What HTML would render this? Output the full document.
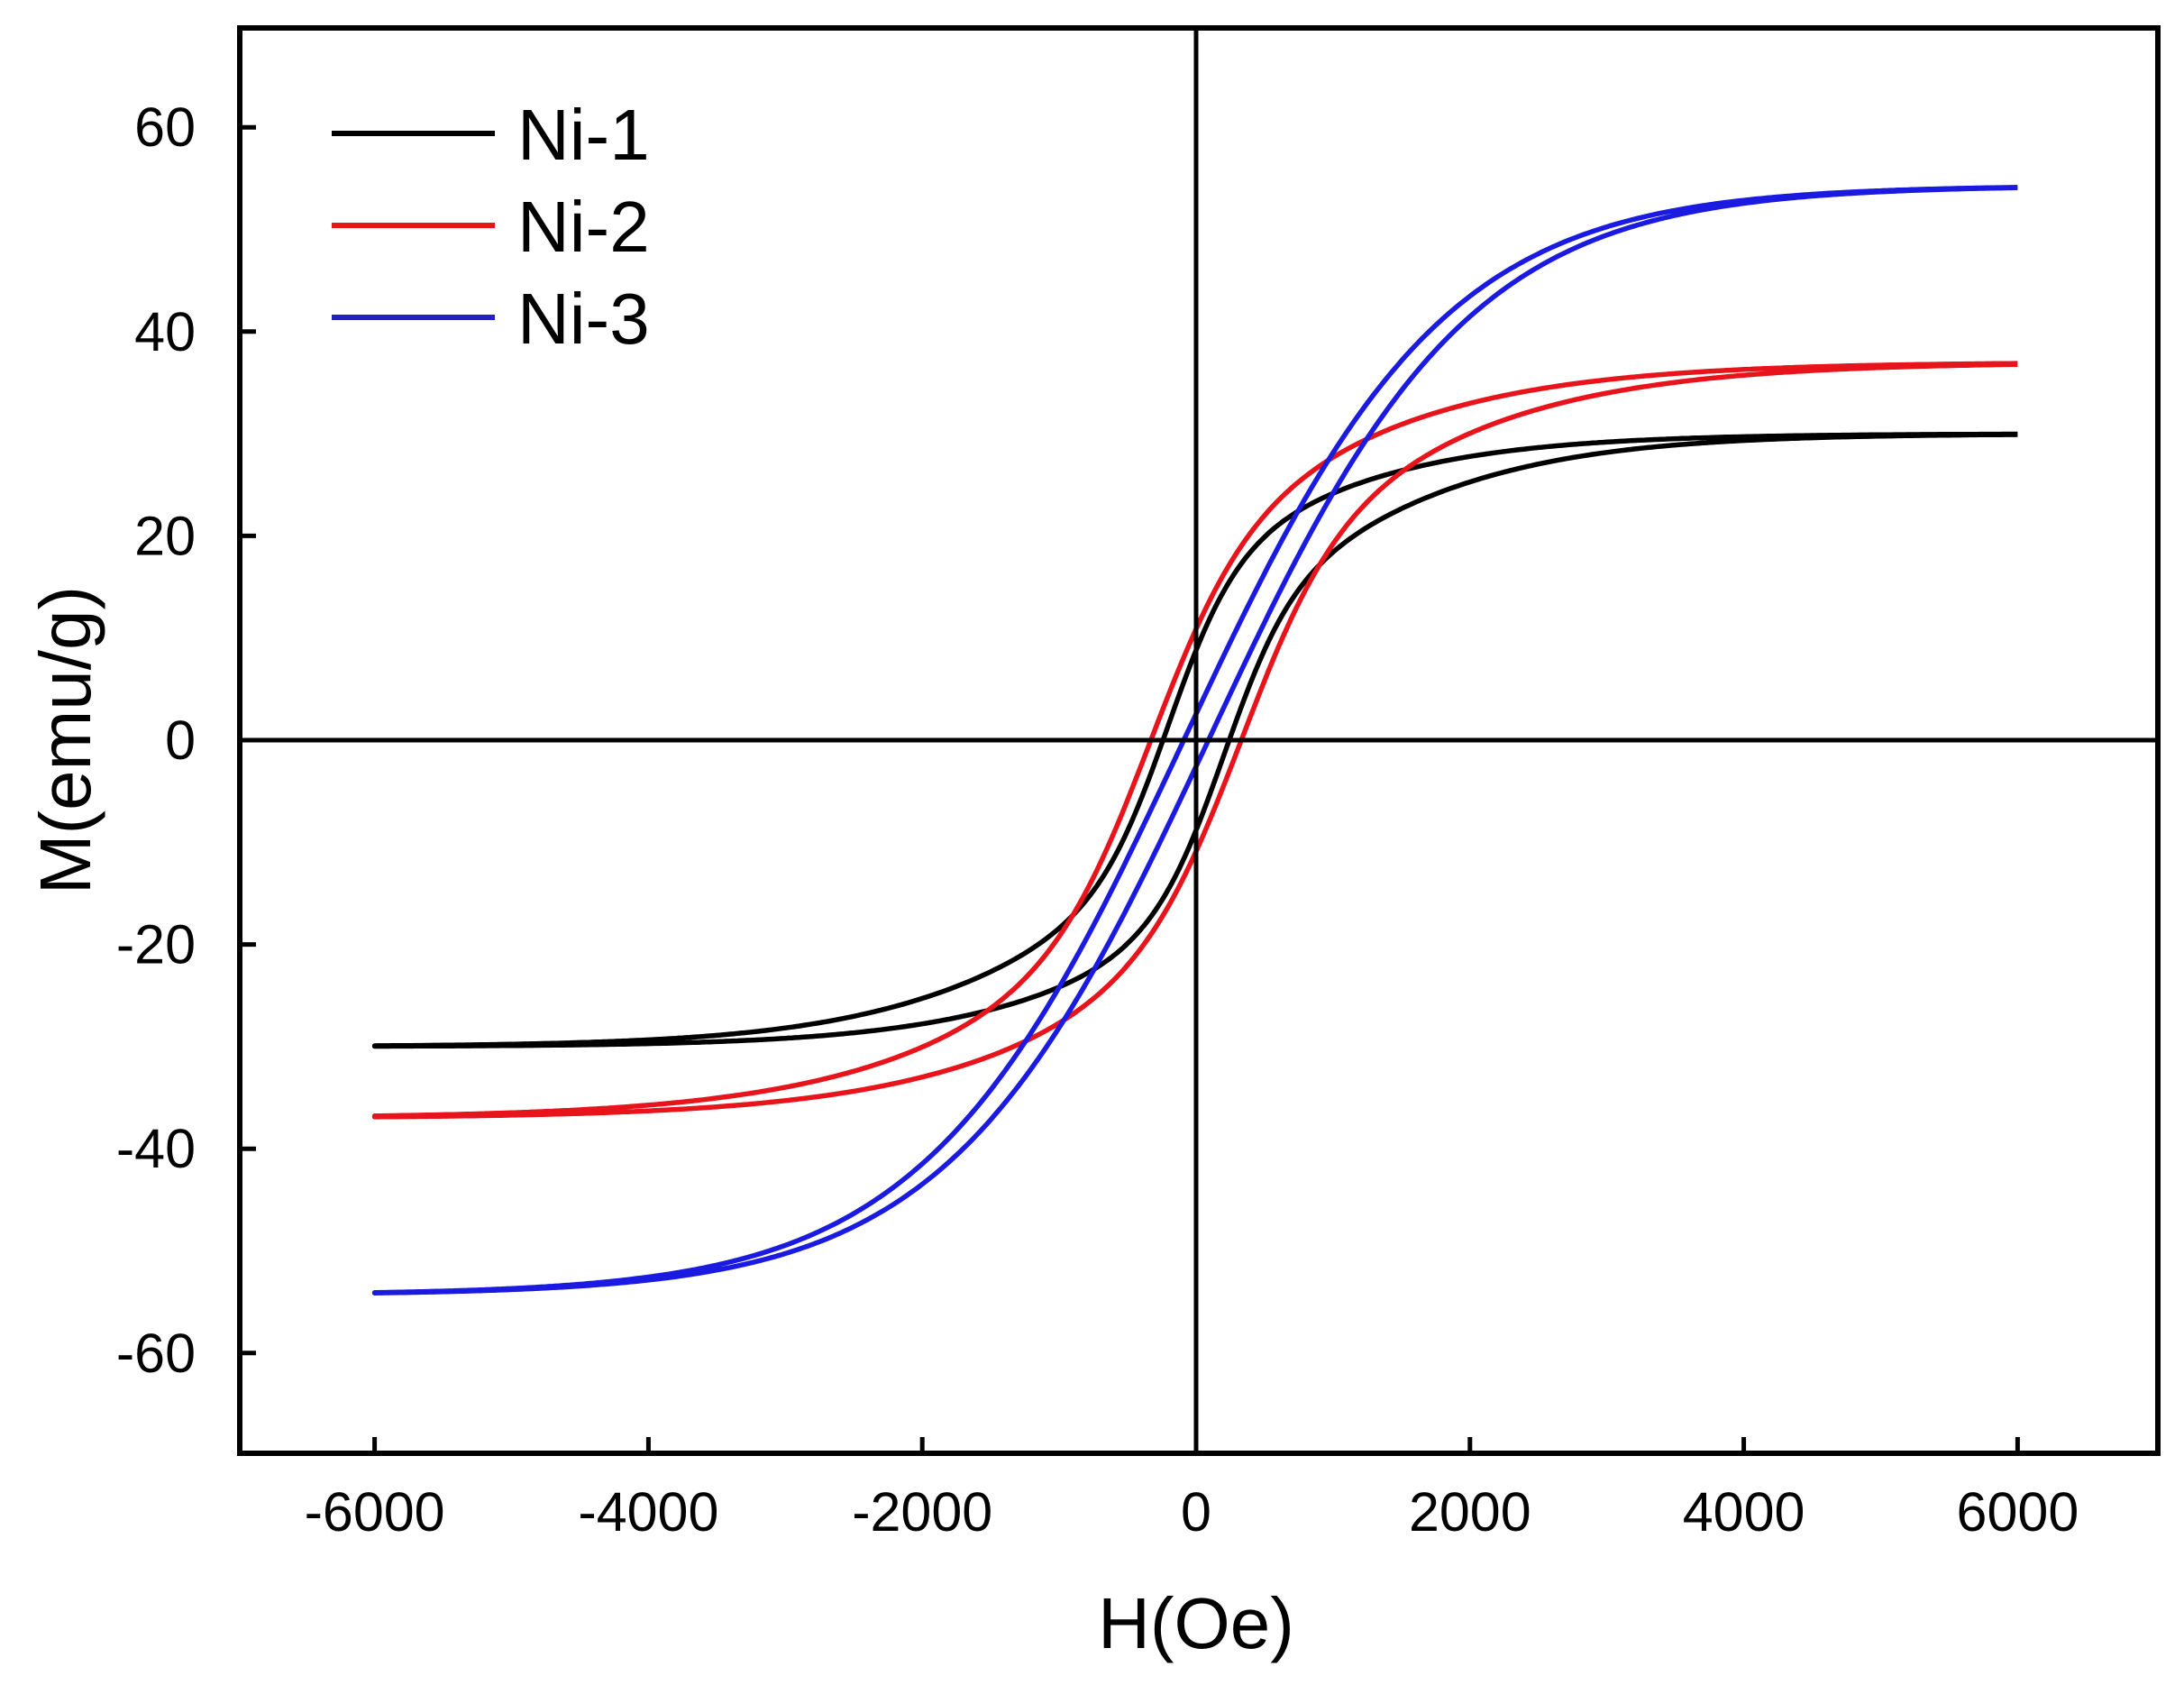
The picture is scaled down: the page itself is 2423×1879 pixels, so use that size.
<!DOCTYPE html>
<html><head><meta charset="utf-8"><style>
html,body{margin:0;padding:0;background:#fff;}
svg{display:block;}
text{font-family:"Liberation Sans",Arial,sans-serif;fill:#000;}
</style></head><body>
<svg id="s" width="2423" height="1879" viewBox="0 0 2423 1879" xmlns="http://www.w3.org/2000/svg">
<rect x="0" y="0" width="2423" height="1879" fill="#fff"/>
<g id="curves" fill="none" stroke-width="5.5" stroke-linejoin="round"></g>
<line x1="266" y1="821" x2="2394" y2="821" stroke="#000" stroke-width="5"/>
<line x1="1327" y1="31" x2="1327" y2="1612" stroke="#000" stroke-width="5"/>
<rect x="266" y="31" width="2128" height="1581" fill="none" stroke="#000" stroke-width="6"/>
<g id="ticks" stroke="#000" stroke-width="5"></g>
<g id="labels" font-size="61"></g>
<text x="1327" y="1828" font-size="80" text-anchor="middle">H(Oe)</text>
<text transform="translate(100,821) rotate(-90)" font-size="80" text-anchor="middle">M(emu/g)</text>
<line x1="368" y1="148" x2="549" y2="148" stroke="#000" stroke-width="6"/>
<line x1="368" y1="250" x2="549" y2="250" stroke="#e8141c" stroke-width="6"/>
<line x1="368" y1="352" x2="549" y2="352" stroke="#2222bb" stroke-width="6"/>
<text x="574" y="177" font-size="80">Ni-1</text>
<text x="574" y="279" font-size="80">Ni-2</text>
<text x="574" y="381" font-size="80">Ni-3</text>
</svg>
<script>
var NS="http://www.w3.org/2000/svg";
function X(h){return 1327+h*0.15190;}
function Y(m){return 821-m*11.33;}
var t=document.getElementById('ticks'),lb=document.getElementById('labels');
function el(p,tag,a,txt){var e=document.createElementNS(NS,tag);for(var k in a)e.setAttribute(k,a[k]);if(txt!==undefined)e.textContent=txt;p.appendChild(e);}
for(var h=-6000;h<=6000;h+=2000){var x=X(h);el(t,'line',{x1:x,y1:1612,x2:x,y2:1594});el(lb,'text',{x:x,y:1698,'text-anchor':'middle'},String(h));}
for(var m=-60;m<=60;m+=20){var y=Y(m);el(t,'line',{x1:266,y1:y,x2:284,y2:y});el(lb,'text',{x:217,y:y+21,'text-anchor':'end'},String(m));}
function th(v){return Math.tanh(v);}
var series=[
 {c:'#000000',f:function(H,s){return 30*(0.5*th((H+s*200)/500)+0.5*th((H+s*400)/1900));}},
 {c:'#e8141c',f:function(H,s){return 37*(0.5*th((H+s*330)/700)+0.5*th((H+s*330)/2200));}},
 {c:'#1a1ae0',f:function(H,s){return 54.3*th((H+s*90)/1900);}}
];
var g=document.getElementById('curves');
series.forEach(function(sr){
 var d='';
 for(var H=6000;H>=-6000;H-=25){d+=(d?'L':'M')+X(H).toFixed(1)+' '+Y(sr.f(H,1)).toFixed(1);}
 for(var H=-6000;H<=6000;H+=25){d+='L'+X(H).toFixed(1)+' '+Y(sr.f(H,-1)).toFixed(1);}
 el(g,'path',{d:d,stroke:sr.c});
});
</script>
</body></html>
